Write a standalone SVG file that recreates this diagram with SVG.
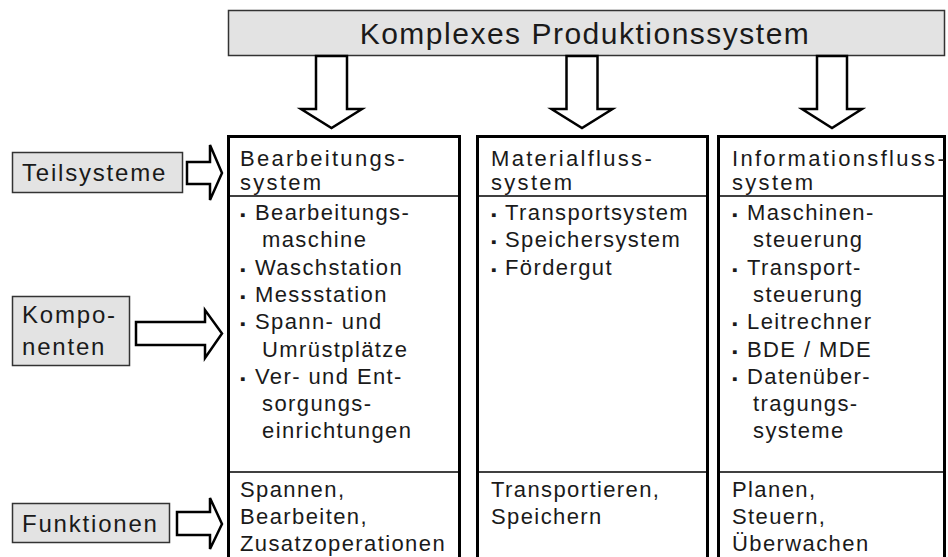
<svg xmlns="http://www.w3.org/2000/svg" width="948" height="557" viewBox="0 0 948 557">
<style>
  .t { font-family: "Liberation Sans", Arial, sans-serif; fill: #1a1a1a; }
  .title { font-size: 30px; letter-spacing: 1.5px; }
  .lbl { font-size: 24px; letter-spacing: 1.8px; }
  .h { font-size: 22px; letter-spacing: 2.3px; }
  .b { font-size: 22px; letter-spacing: 1.4px; }
  .bul { font-size: 15px; letter-spacing: 0; }
  .grey { fill: #e3e3e3; stroke: #333; stroke-width: 1.5; }
  .col { fill: #fff; stroke: #000; stroke-width: 3; }
  .div { stroke: #000; stroke-width: 1.5; }
  .arr { fill: #fff; stroke: #000; stroke-width: 2.5; stroke-linejoin: miter; }
</style>

<g id="top">
  <rect class="grey" x="228.5" y="10.5" width="716" height="45"/>
  <text class="t title" x="585" y="44" text-anchor="middle">Komplexes Produktionssystem</text>
</g>

<g id="col1">
  <rect class="col" x="228.5" y="136.5" width="231" height="430"/>
  <line class="div" x1="228" y1="196" x2="460" y2="196"/>
  <line class="div" x1="228" y1="472" x2="460" y2="472"/>
  <text class="t h" x="240" y="166">Bearbeitungs-</text>
  <text class="t h" x="240" y="190">system</text>
  <g class="t b">
    <text x="240" y="220"><tspan class="bul">▪</tspan><tspan x="255">Bearbeitungs-</tspan></text>
    <text x="262" y="247">maschine</text>
    <text x="240" y="274.5"><tspan class="bul">▪</tspan><tspan x="255">Waschstation</tspan></text>
    <text x="240" y="302"><tspan class="bul">▪</tspan><tspan x="255">Messstation</tspan></text>
    <text x="240" y="329"><tspan class="bul">▪</tspan><tspan x="255">Spann- und</tspan></text>
    <text x="262" y="356.5">Umrüstplätze</text>
    <text x="240" y="383.5"><tspan class="bul">▪</tspan><tspan x="255">Ver- und Ent-</tspan></text>
    <text x="262" y="411">sorgungs-</text>
    <text x="262" y="438">einrichtungen</text>
    <text x="240" y="497">Spannen,</text>
    <text x="240" y="524">Bearbeiten,</text>
    <text x="240" y="551">Zusatzoperationen</text>
  </g>
</g>

<g id="col2">
  <rect class="col" x="477.5" y="136.5" width="230" height="430"/>
  <line class="div" x1="477" y1="196" x2="708" y2="196"/>
  <line class="div" x1="477" y1="472" x2="708" y2="472"/>
  <text class="t h" x="491" y="166">Materialfluss-</text>
  <text class="t h" x="491" y="190">system</text>
  <g class="t b">
    <text x="491" y="220"><tspan class="bul">▪</tspan><tspan x="505">Transportsystem</tspan></text>
    <text x="491" y="247"><tspan class="bul">▪</tspan><tspan x="505">Speichersystem</tspan></text>
    <text x="491" y="274.5"><tspan class="bul">▪</tspan><tspan x="505">Fördergut</tspan></text>
    <text x="491" y="497">Transportieren,</text>
    <text x="491" y="524">Speichern</text>
  </g>
</g>

<g id="col3">
  <rect class="col" x="718.5" y="136.5" width="226" height="430"/>
  <line class="div" x1="718" y1="196" x2="945" y2="196"/>
  <line class="div" x1="718" y1="472" x2="945" y2="472"/>
  <text class="t h" x="732" y="166">Informationsfluss-</text>
  <text class="t h" x="732" y="190">system</text>
  <g class="t b">
    <text x="732" y="220"><tspan class="bul">▪</tspan><tspan x="747">Maschinen-</tspan></text>
    <text x="753" y="247">steuerung</text>
    <text x="732" y="274.5"><tspan class="bul">▪</tspan><tspan x="747">Transport-</tspan></text>
    <text x="753" y="302">steuerung</text>
    <text x="732" y="329"><tspan class="bul">▪</tspan><tspan x="747">Leitrechner</tspan></text>
    <text x="732" y="356.5"><tspan class="bul">▪</tspan><tspan x="747">BDE / MDE</tspan></text>
    <text x="732" y="383.5"><tspan class="bul">▪</tspan><tspan x="747">Datenüber-</tspan></text>
    <text x="753" y="411">tragungs-</text>
    <text x="753" y="438">systeme</text>
    <text x="732" y="497">Planen,</text>
    <text x="732" y="524">Steuern,</text>
    <text x="732" y="551">Überwachen</text>
  </g>
</g>

<g id="teilsysteme">
  <rect class="grey" x="12.5" y="152.5" width="170" height="40"/>
  <text class="t lbl" x="22" y="181">Teilsysteme</text>
</g>

<g id="komponenten">
  <rect class="grey" x="12.5" y="296.5" width="117" height="69"/>
  <text class="t lbl" x="22" y="323">Kompo-</text>
  <text class="t lbl" x="22" y="355">nenten</text>
</g>

<g id="funktionen">
  <rect class="grey" x="12.5" y="503.5" width="157" height="39"/>
  <text class="t lbl" x="22" y="532">Funktionen</text>
</g>

<g id="connectors">
  <polygon class="arr" points="316,56 347,56 347,109 362,109 331.5,128 301,109 316,109"/>
  <polygon class="arr" points="566.5,56 597.5,56 597.5,109 612.5,109 582,128 551.5,109 566.5,109"/>
  <polygon class="arr" points="817,56 847,56 847,109 862,109 832,128 802,109 817,109"/>
  <polygon class="arr" points="187,162 210,162 210,145 222,173 210,200 210,184 187,184"/>
  <polygon class="arr" points="136,322 205,322 205,310 222,333.5 205,358 205,345 136,345"/>
  <polygon class="arr" points="177,512 210,512 210,498 222,524 210,549 210,535 177,535"/>
</g>
</svg>
